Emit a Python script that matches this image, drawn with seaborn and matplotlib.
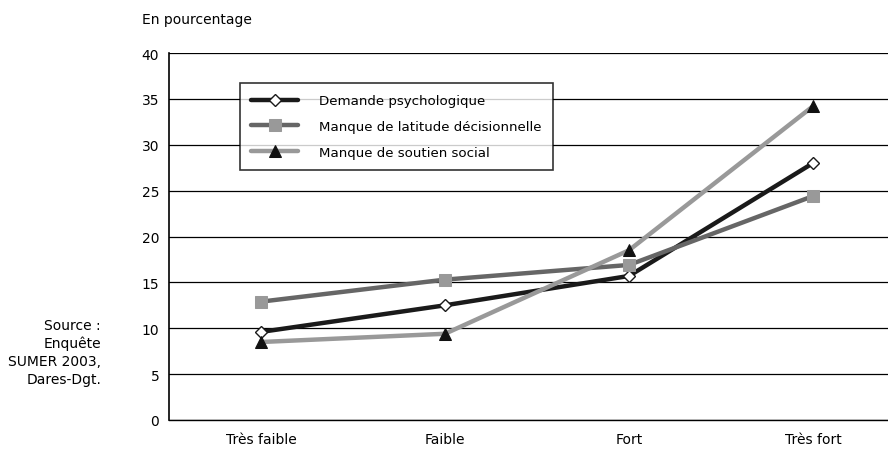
import numpy as np
import pandas as pd
import matplotlib
matplotlib.use("Agg")
import matplotlib.pyplot as plt
import seaborn as sns

# Data
categories = ["Très faible", "Faible", "Fort", "Très fort"]
demande = [9.6, 12.5, 15.7, 28.0]
latitude = [12.9, 15.3, 16.9, 24.4]
soutien = [8.5, 9.4, 18.5, 34.2]
series_names = ["Demande psychologique",
                "Manque de latitude décisionnelle",
                "Manque de soutien social"]

sns.set_style("white")
plt.rcParams["font.family"] = ["DejaVu Sans"]
plt.rcParams["text.color"] = "black"
plt.rcParams["xtick.color"] = "black"
plt.rcParams["ytick.color"] = "black"

fig = plt.figure(figsize=(8.88, 4.52), dpi=100)
ax = fig.add_axes([169 / 888, 31 / 452, 736 / 888, 367 / 452])

pos = np.arange(len(categories))
styles = [
    (demande, "#1a1a1a", dict(marker="D", markersize=6, markerfacecolor="white",
                              markeredgecolor="#1a1a1a", markeredgewidth=1.0)),
    (latitude, "#666666", dict(marker="s", markersize=8, markerfacecolor="#999999",
                               markeredgecolor="#999999")),
    (soutien, "#999999", dict(marker="^", markersize=9, markerfacecolor="#111111",
                              markeredgecolor="#111111")),
]
for (vals, col, mk), name in zip(styles, series_names):
    df = pd.DataFrame({"x": pos, "y": vals})
    sns.lineplot(data=df, x="x", y="y", ax=ax, color=col, linewidth=3.2,
                 label=name, **mk)

ax.set_ylim(0, 40)
ax.set_xlim(-0.5, 3.5)
ax.set_yticks(np.arange(0, 41, 5))
ax.yaxis.grid(True, color="black", linewidth=0.9)
ax.set_axisbelow(True)
ax.set_xticks([-0.5, 0.5, 1.5, 2.5])
ax.set_xticklabels([])
ax.set_xticks(pos, minor=True)
ax.set_xticklabels(categories, minor=True, fontsize=10)
ax.tick_params(axis="x", which="major", length=6, width=1, color="black", direction="out")
ax.tick_params(axis="x", which="minor", length=0, pad=9)
ax.tick_params(axis="y", length=5, width=1, color="black", direction="out",
               labelsize=10, pad=2)
ax.set_xlabel("")
ax.set_ylabel("")
for s in ["top", "right"]:
    ax.spines[s].set_visible(False)
ax.spines["left"].set_color("black")
ax.spines["left"].set_linewidth(1.2)
ax.spines["bottom"].set_color("black")
ax.spines["bottom"].set_linewidth(1.0)

leg = ax.legend(loc="upper left", bbox_to_anchor=(71 / 736, 1 - 30 / 367),
                borderaxespad=0, frameon=True, fancybox=False, fontsize=9.6,
                handlelength=3.5, handletextpad=1.6, labelspacing=0.95,
                borderpad=0.85, edgecolor="black")
leg.get_frame().set_linewidth(1.2)

fig.text(142 / 888, 1 - 20 / 452, "En pourcentage", fontsize=10,
         ha="left", va="center")
fig.text(101 / 888, 1 - 353 / 452, "Source :\nEnquête\nSUMER 2003,\nDares-Dgt.",
         fontsize=10, ha="right", va="center", linespacing=1.35)

fig.savefig("out.png", dpi=100)
